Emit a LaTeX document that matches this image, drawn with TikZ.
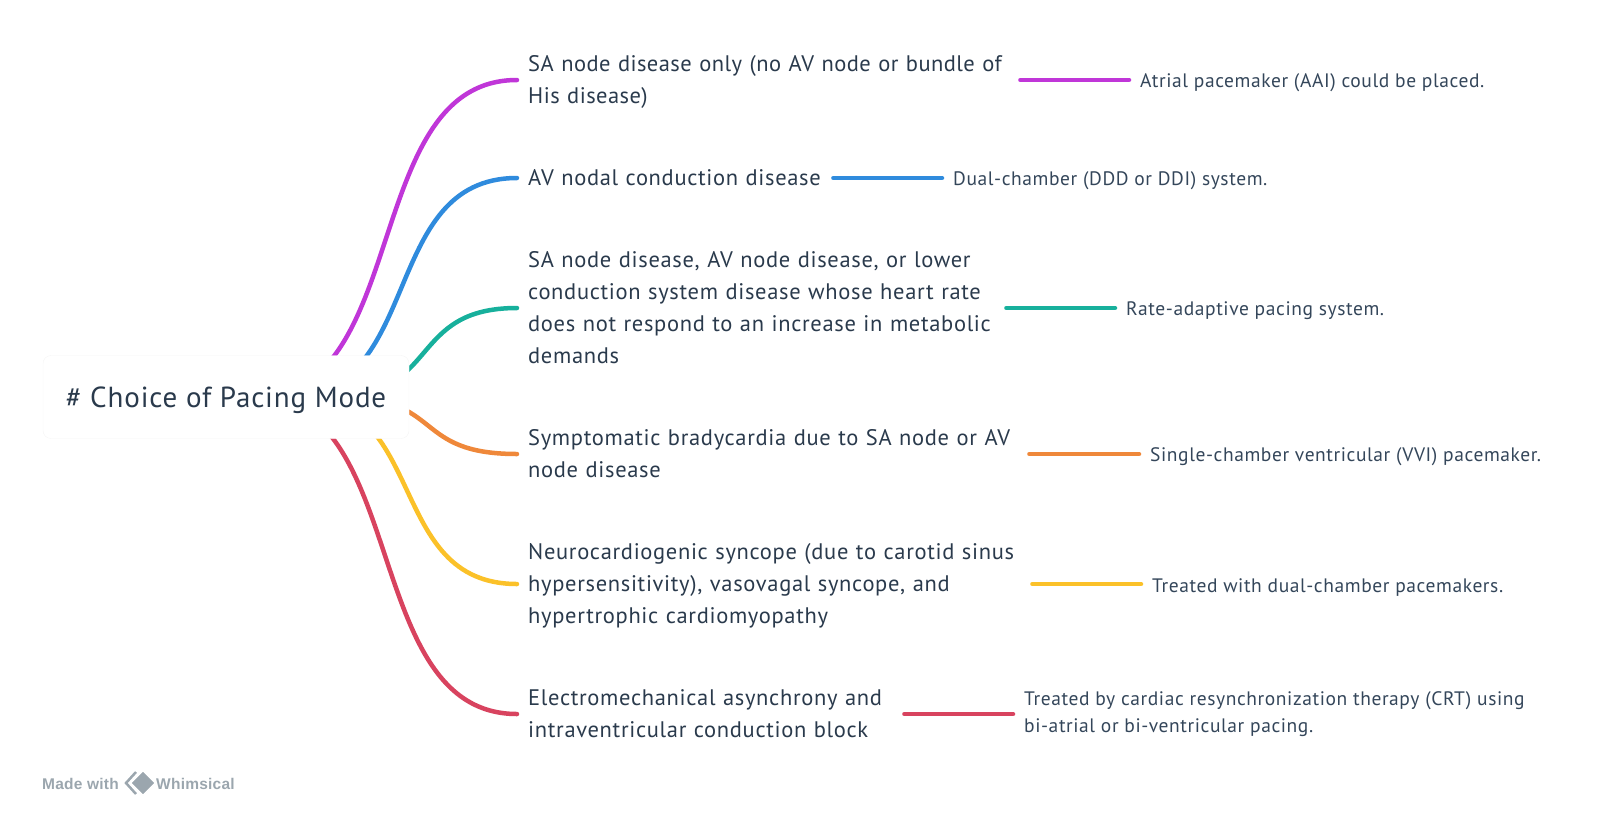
\documentclass[tikz,border=0pt]{standalone}
\usepackage{fontspec}
\setmainfont{PT Sans}[LetterSpace=3]
\newfontfamily\logofont{Liberation Sans}[LetterSpace=1.5]
\usetikzlibrary{backgrounds}
\hyphenpenalty=10000
\definecolor{inkdark}{HTML}{2A3A4C}
\definecolor{inkleaf}{HTML}{34465A}
\definecolor{logogray}{HTML}{9BA6AE}
\definecolor{cPurple}{HTML}{C036D8}
\definecolor{cBlue}{HTML}{2F8BDD}
\definecolor{cTeal}{HTML}{17B09C}
\definecolor{cOrange}{HTML}{EF883A}
\definecolor{cYellow}{HTML}{FBC129}
\definecolor{cRed}{HTML}{D8435F}
\tikzset{
    rootbox/.style={draw=black!4, fill=white, rounded corners=8pt, minimum width=366pt, minimum height=83pt, inner sep=0pt, text=inkdark, text height=26pt, text depth=6pt, font=\fontsize{29}{34}\selectfont},
    itembox/.style={anchor=west, inner xsep=11pt, inner ysep=0pt, align=left, text=inkdark, font=\fontsize{22.5}{32}\selectfont, execute at begin node={\rule{0pt}{21pt}}, execute at end node={\rule[-6pt]{0pt}{6pt}}},
    leafbox/.style={anchor=west, inner xsep=11pt, inner ysep=0pt, align=left, text=inkleaf, font=\fontsize{19.5}{27}\selectfont, execute at begin node={\rule{0pt}{20pt}}},
    logotext/.style={inner sep=0pt, anchor=west, text=logogray, font=\logofont\bfseries\fontsize{15.5}{18}\selectfont},
    branch/.style={line width=4.5pt, line cap=round}
}
\begin{document}
\begin{tikzpicture}[x=1pt,y=-1pt]
    \useasboundingbox (0,0) rectangle (1600,815);

    \node[rootbox] (root) at (226,397) {\# Choice of Pacing Mode};

    % first level
    \node[itembox, text width=481pt] (sa) at (517,80) {\addfontfeature{LetterSpace=2}SA node disease only (no AV node or bundle of\\His disease)};
    \node[itembox, text width=294pt] (av) at (517,178) {AV nodal conduction disease};
    \node[itembox, text width=467pt] (rate) at (517,308) {SA node disease, AV node disease, or lower\\conduction system disease whose heart rate\\does not respond to an increase in metabolic\\demands};
    \node[itembox, text width=490pt] (brady) at (517,454) {Symptomatic bradycardia due to SA node or AV\\node disease};
    \node[itembox, text width=493pt] (syncope) at (517,584) {Neurocardiogenic syncope (due to carotid sinus\\hypersensitivity), vasovagal syncope, and\\hypertrophic cardiomyopathy};
    \node[itembox, text width=365pt] (block) at (517,714) {Electromechanical asynchrony and\\intraventricular conduction block};

    % second level
    \node[leafbox] (aai) at (1129,80) {Atrial pacemaker (AAI) could be placed.};
    \node[leafbox] (ddd) at (942,178) {Dual-chamber (DDD or DDI) system.};
    \node[leafbox] (adaptive) at (1115,308) {Rate-adaptive pacing system.};
    \node[leafbox] (vvi) at (1139,454) {Single-chamber ventricular (VVI) pacemaker.};
    \node[leafbox] (dual) at (1141,584) {Treated with dual-chamber pacemakers.};
    \node[leafbox] (crt) at (1013,714) {Treated by cardiac resynchronization therapy (CRT) using\\bi-atrial or bi-ventricular pacing.};

    % branches go behind the root box
    \begin{scope}[on background layer]
        \draw[branch, cPurple] (root.center) -- ++(29,0) .. controls +(157,0) and +(-157,0) .. (sa.west);
        \draw[branch, cBlue] (root.center) -- ++(60,0) .. controls +(139,0) and +(-139,0) .. (av.west);
        \draw[branch, cTeal] (root.center) -- ++(105,0) .. controls +(110,0) and +(-110,0) .. (rate.west);
        \draw[branch, cOrange] (root.center) -- ++(113,0) .. controls +(106,0) and +(-106,0) .. (brady.west);
        \draw[branch, cYellow] (root.center) -- ++(71,0) .. controls +(132,0) and +(-132,0) .. (syncope.west);
        \draw[branch, cRed] (root.center) -- ++(27,0) .. controls +(158,0) and +(-158,0) .. (block.west);
    \end{scope}

    \draw[branch, cPurple] (sa.east) -- (aai.west);
    \draw[branch, cBlue] (av.east) -- (ddd.west);
    \draw[branch, cTeal] (rate.east) -- (adaptive.west);
    \draw[branch, cOrange] (brady.east) -- (vvi.west);
    \draw[branch, cYellow] (syncope.east) -- (dual.west);
    \draw[branch, cRed] (block.east) -- (crt.west);

    % logo
    \node[logotext] (made) at (42,784) {Made with};
    \node[logotext] (whim) at (156,784) {Whimsical};
    \draw[logogray, line width=2.5pt] (136,772) -- (126,783) -- (136,794);
    \fill[logogray, draw=white, line width=1pt] (143,771) -- (155,783) -- (143,795) -- (131,783) -- cycle;
\end{tikzpicture}
\end{document}
